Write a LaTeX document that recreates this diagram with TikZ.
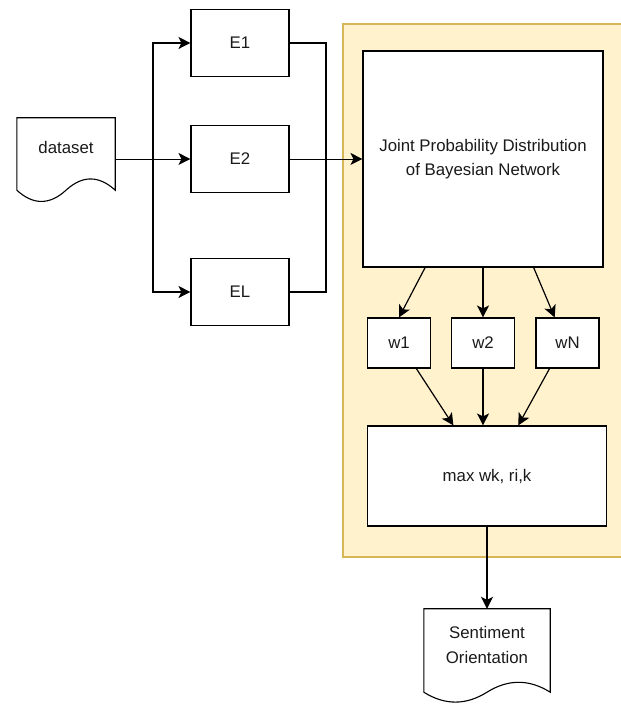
\documentclass[tikz,border=0pt]{standalone}
\usepackage{fontspec}
\setmainfont{Liberation Sans}
\usetikzlibrary{arrows.meta, calc}
\definecolor{frameyellow}{HTML}{FFF2CC}
\definecolor{framegold}{HTML}{D6B656}
\definecolor{textgray}{HTML}{1A1A1A}
\tikzstyle{block}   = [rectangle, draw=black, line width=1.1pt, fill=white, text centered]
\tikzstyle{docnode} = [rectangle, text centered]
\tikzstyle{arrow}   = [line width=1.2pt, -{Stealth[length=12pt, width=12pt, inset=3pt]}]
\tikzstyle{line}    = [line width=1.2pt]
\tikzset{every node/.style={align=center, text=textgray, font=\fontsize{16.8}{24.5}\selectfont}}

% outline of a document shape round a node: name, depth of the wave
\newcommand{\docwave}[2]{%
  \draw[line width=1.1pt] (#1.north west) -- (#1.north east) -- ($(#1.south east)+(0,-0.5*#2)$)
    .. controls ($(#1.south east)!1/6!(#1.south west)+(0,0.1*#2)$) and ($(#1.south east)!1/3!(#1.south west)+(0,0.1*#2)$) .. ($(#1.south)+(0,-0.5*#2)$)
    .. controls ($(#1.south east)!2/3!(#1.south west)+(0,-1.1*#2)$) and ($(#1.south east)!5/6!(#1.south west)+(0,-1.1*#2)$) .. ($(#1.south west)+(0,-0.5*#2)$) -- cycle;}

\begin{document}
\begin{tikzpicture}[x=1pt, y=1pt]
    \useasboundingbox (0,0) rectangle (621,704);
    % yellow frame
    \filldraw[fill=frameyellow, draw=framegold, line width=1.5pt] (343,147) rectangle (630,680);

    \node[docnode, minimum width=98pt, minimum height=59.5pt] (dataset) at (66,556.25) {dataset};
    \docwave{dataset}{25}

    \node[block, minimum width=98pt, minimum height=67pt] (E1) at (240,661)   {E1};
    \node[block, minimum width=98pt, minimum height=67pt] (E2) at (240,545) {E2};
    \node[block, minimum width=98pt, minimum height=67pt] (EL) at (240,412)   {EL};

    \node[block, minimum width=240pt, minimum height=216pt] (jpd) at (483,545) {Joint Probability Distribution\\of Bayesian Network};
    \node[block, minimum width=63pt, minimum height=50pt] (w1) at (399,361)   {w1};
    \node[block, minimum width=63pt, minimum height=50pt] (w2) at (483,361)   {w2};
    \node[block, minimum width=63pt, minimum height=50pt] (wN) at (567.5,361) {wN};
    \node[block, minimum width=239pt, minimum height=100pt] (max) at (487,228) {max wk, ri,k};

    \node[docnode, minimum width=126pt, minimum height=72pt] (senti) at (487,59) {Sentiment\\Orientation};
    \docwave{senti}{22}

    \coordinate (fork) at (153,545);
    \coordinate (join) at (326,545);
    \draw [arrow, line width=0.9pt] (dataset.east |- E2) -- (E2);
    \draw [arrow] (fork) |- (E1.west);
    \draw [arrow] (fork) |- (EL.west);
    \draw [line]  (E1.east) -| (join) |- (EL.east);
    \draw [arrow, line width=0.9pt] (E2) -- (jpd);

    \draw [arrow] ($(jpd.south west)!0.26!(jpd.south east)$) -- (w1.north);
    \draw [arrow] (jpd.south -| w2) -- (w2);
    \draw [arrow] ($(jpd.south west)!0.71!(jpd.south east)$) -- ($(wN.north west)!0.3!(wN.north east)$);
    \draw [arrow] ($(w1.south west)!0.77!(w1.south east)$) -- ($(max.north west)!0.36!(max.north east)$);
    \draw [arrow] (w2) -- (w2 |- max.north);
    \draw [arrow] ($(wN.south west)!0.22!(wN.south east)$) -- ($(max.north west)!0.63!(max.north east)$);
    \draw [arrow] (max) -- (senti);
\end{tikzpicture}
\end{document}
